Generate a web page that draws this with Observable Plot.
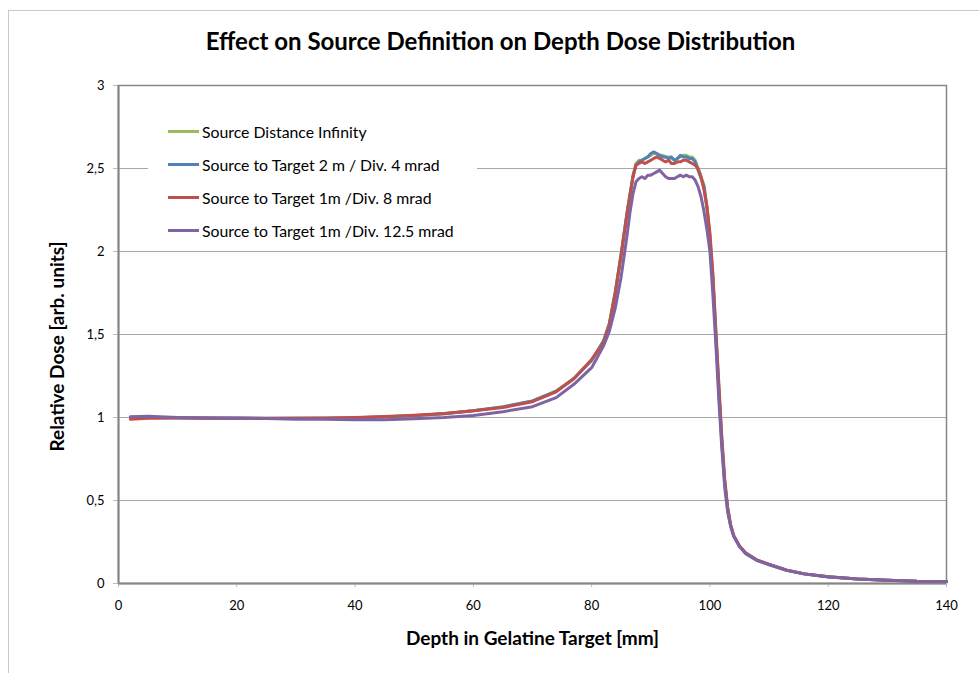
<!DOCTYPE html>
<html>
<head>
<meta charset="utf-8">
<script src="https://cdn.jsdelivr.net/npm/d3@7"></script>
<script src="https://cdn.jsdelivr.net/npm/@observablehq/plot@0.6"></script>
<style>
  html, body { margin: 0; padding: 0; background: #fff; overflow: hidden; }
  #wrap { position: relative; width: 979px; height: 673px; font-family: Lato, "Open Sans", sans-serif; }
  #border { position: absolute; left: 8px; top: 10px; width: 1000px; height: 700px; border-left: 1px solid #c8c8c8; border-top: 1px solid #c8c8c8; }
  #chart { position: absolute; left: 0; top: 0; }
  #legend { position: absolute; left: 148px; top: 115px; width: 329px; height: 131px; background: #fff; }
  .item { position: absolute; left: 20px; height: 20px; display: flex; align-items: center; font-size: 15.8px; color: #000; white-space: nowrap; }
  .swatch { width: 31px; height: 3px; margin-right: 3px; }
</style>
</head>
<body>
<div id="wrap">
  <div id="border"></div>
  <div id="chart"></div>
  <div id="legend"></div>
</div>
<script>
// ---- data ----
const depth = [2, 5, 10, 15, 20, 25, 30, 35, 40, 45, 50, 55, 60, 65, 70, 74, 77, 80, 82, 83, 84, 85, 86, 86.5, 87, 87.5, 88, 88.5, 89, 89.5, 90, 90.5, 91, 91.5, 92, 92.5, 93, 93.5, 94, 94.5, 95, 95.5, 96, 96.5, 97, 97.5, 98, 98.5, 99, 99.5, 100, 100.5, 101, 101.5, 102, 102.5, 103, 103.5, 104, 105, 106, 108, 110, 113, 116, 120, 125, 130, 135, 140];

const seriesNames = [
  "Source Distance Infinity",
  "Source to Target 2 m / Div. 4 mrad",
  "Source to Target 1m /Div. 8 mrad",
  "Source to Target 1m /Div. 12.5 mrad"
];
const seriesColors = ["#9bbb59", "#4f81bd", "#c0504d", "#8064a2"];

const doseInfinity = [1.0, 1.0, 0.998, 0.997, 0.996, 0.995, 0.995, 0.996, 0.997, 1.003, 1.012, 1.022, 1.04, 1.065, 1.1, 1.16, 1.235, 1.345, 1.46, 1.57, 1.76, 1.99, 2.24, 2.35, 2.46, 2.53, 2.55, 2.55, 2.56, 2.57, 2.58, 2.59, 2.59, 2.58, 2.58, 2.57, 2.57, 2.56, 2.55, 2.56, 2.57, 2.58, 2.58, 2.57, 2.57, 2.55, 2.5, 2.45, 2.4, 2.27, 2.09, 1.84, 1.5, 1.17, 0.86, 0.61, 0.45, 0.35, 0.29, 0.225, 0.185, 0.14, 0.115, 0.08, 0.058, 0.04, 0.027, 0.02, 0.014, 0.012];

const dose2m = [1.002, 0.999, 0.999, 0.996, 0.997, 0.994, 0.996, 0.995, 0.998, 1.004, 1.011, 1.023, 1.041, 1.064, 1.1, 1.158, 1.233, 1.343, 1.46, 1.565, 1.755, 1.985, 2.235, 2.345, 2.455, 2.52, 2.54, 2.55, 2.56, 2.57, 2.59, 2.6, 2.59, 2.58, 2.57, 2.57, 2.56, 2.57, 2.55, 2.56, 2.58, 2.57, 2.57, 2.56, 2.56, 2.54, 2.49, 2.44, 2.39, 2.26, 2.08, 1.83, 1.5, 1.17, 0.86, 0.61, 0.45, 0.35, 0.29, 0.225, 0.185, 0.14, 0.115, 0.08, 0.058, 0.04, 0.027, 0.02, 0.014, 0.012];

const dose8mrad = [0.99, 0.995, 0.997, 0.996, 0.995, 0.995, 0.996, 0.997, 1.0, 1.006, 1.014, 1.024, 1.04, 1.06, 1.095, 1.155, 1.235, 1.35, 1.45, 1.56, 1.75, 1.98, 2.23, 2.34, 2.45, 2.52, 2.53, 2.54, 2.53, 2.54, 2.55, 2.56, 2.57, 2.56, 2.55, 2.54, 2.55, 2.53, 2.53, 2.54, 2.54, 2.55, 2.55, 2.54, 2.53, 2.52, 2.5, 2.45, 2.37, 2.27, 2.11, 1.87, 1.53, 1.21, 0.89, 0.63, 0.46, 0.355, 0.29, 0.226, 0.185, 0.14, 0.115, 0.08, 0.058, 0.04, 0.027, 0.02, 0.014, 0.012];

const dose12mrad = [1.005, 1.008, 1.0, 0.998, 0.995, 0.994, 0.99, 0.989, 0.987, 0.986, 0.992, 1.0, 1.012, 1.035, 1.065, 1.12, 1.2, 1.3, 1.43, 1.52, 1.66, 1.85, 2.1, 2.24, 2.35, 2.42, 2.44, 2.45, 2.44, 2.46, 2.46, 2.47, 2.48, 2.49, 2.47, 2.45, 2.44, 2.44, 2.44, 2.45, 2.46, 2.45, 2.46, 2.45, 2.45, 2.43, 2.39, 2.33, 2.24, 2.13, 2.0, 1.74, 1.44, 1.11, 0.82, 0.58, 0.43, 0.345, 0.285, 0.222, 0.18, 0.138, 0.113, 0.079, 0.057, 0.039, 0.027, 0.02, 0.014, 0.012];

const xTicks = [0, 20, 40, 60, 80, 100, 120, 140];
const yTicks = [0, 0.5, 1, 1.5, 2, 2.5, 3];
const titleText = "Effect on Source Definition on Depth Dose Distribution";
const xLabel = "Depth in Gelatine Target [mm]";
const yLabel = "Relative Dose [arb. units]";

// ---- build table ----
const allDose = [doseInfinity, dose2m, dose8mrad, dose12mrad];
const rows = [];
allDose.forEach((vals, s) => {
  vals.forEach((v, i) => rows.push({series: seriesNames[s], depth: depth[i], dose: v}));
});

const axisColor = "#868686";
const chart = Plot.plot({
  width: 979,
  height: 673,
  marginLeft: 118,
  marginRight: 33,
  marginTop: 85,
  marginBottom: 90,
  style: {fontFamily: "Lato, 'Open Sans', sans-serif", fontSize: "13px", color: "#000", background: "transparent"},
  x: {domain: [0, 140]},
  y: {domain: [0, 3]},
  color: {domain: seriesNames, range: seriesColors},
  marks: [
    Plot.gridY(yTicks.filter(d => d > 0 && d < 3), {stroke: "#a8a8a8", strokeOpacity: 1, strokeWidth: 1}),
    Plot.frame({stroke: axisColor, strokeWidth: 1.5}),
    Plot.axisY(yTicks, {tickSize: 5, tickPadding: 9, stroke: "#bbbbbb", label: null,
      tickFormat: d => String(d).replace(".", ","), fontSize: 13}),
    Plot.axisX(xTicks, {tickSize: 4, tickPadding: 13, stroke: "#bbbbbb", label: null, tickFormat: d => String(d), fontSize: 13}),
    Plot.ruleX([0], {stroke: axisColor, strokeWidth: 2}),
    Plot.ruleY([0], {stroke: axisColor, strokeWidth: 2}),
    Plot.line(rows, {x: "depth", y: "dose", z: "series", stroke: "series", strokeWidth: 3, curve: "linear"}),
    Plot.text([titleText], {frameAnchor: "top", dx: -32, dy: -43, fontSize: 24, fontWeight: "bold", lineAnchor: "middle"}),
    Plot.text([xLabel], {frameAnchor: "bottom", dy: 55, fontSize: 19, fontWeight: "bold", lineAnchor: "middle"}),
    Plot.text([yLabel], {frameAnchor: "left", textAnchor: "middle", dx: -61, dy: 12, rotate: -90, fontSize: 19, fontWeight: "bold", lineAnchor: "middle"})
  ]
});
document.getElementById("chart").appendChild(chart);

// ---- legend ----
const legend = document.getElementById("legend");
seriesNames.forEach((name, i) => {
  const item = document.createElement("div");
  item.className = "item";
  item.style.top = (6 + i * 33) + "px";
  const sw = document.createElement("span");
  sw.className = "swatch";
  sw.style.background = seriesColors[i];
  const lab = document.createElement("span");
  lab.textContent = name;
  item.appendChild(sw);
  item.appendChild(lab);
  legend.appendChild(item);
});
</script>
</body>
</html>
